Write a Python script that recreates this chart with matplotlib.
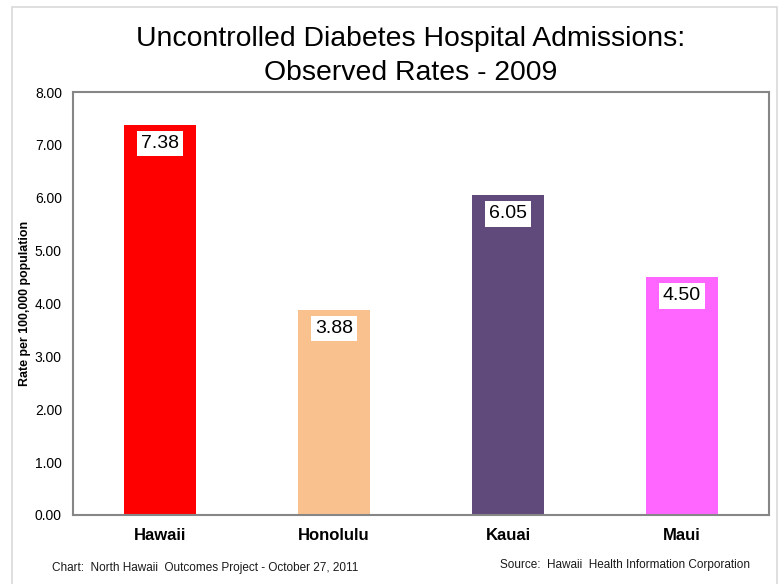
import matplotlib.pyplot as plt
from matplotlib.patches import Rectangle

plt.rcParams['font.family'] = ['Liberation Sans', 'DejaVu Sans']

# admissions per 100,000 population, 2009
islands = ['Hawaii', 'Honolulu', 'Kauai', 'Maui']
rates = [7.38, 3.88, 6.05, 4.50]
colors = ['#FF0000', '#F9C18E', '#604A7B', '#FF66FF']
yticks = [0, 1, 2, 3, 4, 5, 6, 7, 8]

W, H = 783, 584
fig = plt.figure(figsize=(W / 100, H / 100), dpi=100)

# light outer frame of the chart
fig.patches.append(Rectangle((12 / W, -0.05), (777 - 12) / W, 1.05 - 7 / H,
                             transform=fig.transFigure, fill=False,
                             edgecolor='#D9D9D9', linewidth=1.2))

left, right, top, bottom = 73, 769, 92, 515
ax = fig.add_axes([left / W, 1 - bottom / H, (right - left) / W, (bottom - top) / H])

x = range(len(islands))
ax.bar(x, rates, width=0.41, color=colors, zorder=2)

for xi, r in zip(x, rates):
    ax.annotate(f'{r:.2f}', (xi, r), xytext=(0, -13.5), textcoords='offset points',
                ha='center', va='center', fontsize=14,
                bbox=dict(boxstyle='square,pad=0.22', fc='white', ec='none'))

ax.set_xlim(-0.5, len(islands) - 0.5)
ax.set_ylim(0, 8)
ax.set_yticks(yticks)
ax.set_yticklabels([f'{t:.2f}' for t in yticks], fontsize=10)
ax.set_xticks(list(x))
ax.set_xticklabels(islands, fontsize=12, fontweight='bold')
ax.tick_params(axis='both', length=0, pad=8)
ax.tick_params(axis='x', pad=9)
for s in ax.spines.values():
    s.set_color('#868686')
    s.set_linewidth(1.5)

ax.set_ylabel('Rate per 100,000 population', fontsize=8.9, fontweight='bold')
ax.yaxis.set_label_coords((31 - left) / (right - left), 0.5)

fig.text(411 / W, 1 - 56 / H, 'Uncontrolled Diabetes Hospital Admissions:\nObserved Rates - 2009',
         ha='center', va='center', fontsize=20.4, linespacing=1.42)

fig.text(52 / W, 1 - 568 / H, 'Chart:  North Hawaii  Outcomes Project - October 27, 2011',
         ha='left', va='center', fontsize=8.5, color='#1a1a1a')
fig.text(500 / W, 1 - 565 / H, 'Source:  Hawaii  Health Information Corporation',
         ha='left', va='center', fontsize=8.5, color='#1a1a1a')

fig.savefig('out.png', dpi=100)
